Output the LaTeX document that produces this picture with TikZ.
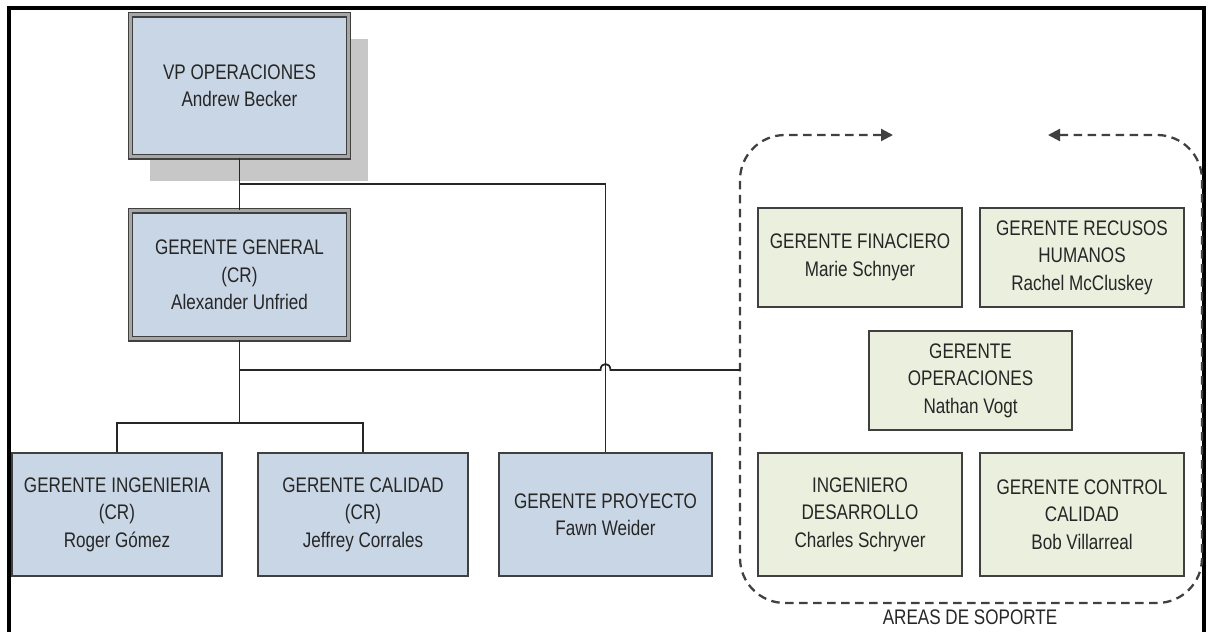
\documentclass[tikz,border=0pt]{standalone}
\usepackage{fontspec}
\newfontfamily\narrowfont[FakeStretch=0.81]{Liberation Sans}
\usetikzlibrary{arrows.meta,shadows}
\definecolor{boxblue}{RGB}{201,214,229}
\definecolor{boxgreen}{RGB}{235,239,222}
\definecolor{edgegray}{RGB}{64,64,64}

\begin{document}
\begin{tikzpicture}
[
  x=0.2mm,
  y=-0.2mm,
  txt/.style={font=\narrowfont\fontsize{12}{15.6}\selectfont,text=black!85,align=center},
  topbox/.style={txt,draw=black!75,line width=0.8pt,double=black!35,double distance=0.06cm,
    fill=boxblue,minimum width=4.36cm,inner sep=0pt},
  mgrbox/.style={txt,draw=edgegray,line width=0.9pt,fill=boxblue,
    minimum width=4.2cm,minimum height=2.46cm,inner sep=0pt},
  supbox/.style={txt,draw=edgegray,line width=0.9pt,fill=boxgreen,
    minimum width=4.08cm,minimum height=1.98cm,inner sep=0pt},
  link/.style={draw=black!85,line width=1pt},
  frame/.style={draw=black,line width=2pt}
]
\useasboundingbox (0,0) rectangle (1208,632);

% Frame
\draw[frame] (9,632) -- (9,8) -- (1204,8) -- (1204,632);

% Top boxes
\node[topbox,minimum height=2.84cm,
  drop shadow={shadow xshift=0.38cm,shadow yshift=-0.48cm,fill=black!22,opacity=1}]
  (vp) at (239.5,86) {VP OPERACIONES\\Andrew Becker};
\node[topbox,minimum height=2.56cm] (gg) at (239.5,275)
  {GERENTE GENERAL\\(CR)\\Alexander Unfried};

% Managers
\node[mgrbox] (ing) at (117,514.5) {GERENTE INGENIERIA\\(CR)\\Roger Gómez};
\node[mgrbox] (cal) at (363,514.5) {GERENTE CALIDAD\\(CR)\\Jeffrey Corrales};
\node[mgrbox,minimum width=4.26cm] (proy) at (605.5,514.5) {GERENTE PROYECTO\\Fawn Weider};

% Support areas
\node[supbox] (fin) at (860,257.5) {GERENTE FINACIERO\\Marie Schnyer};
\node[supbox] (rrhh) at (1082,257.5) {GERENTE RECUSOS\\HUMANOS\\Rachel McCluskey};
\node[supbox,minimum width=4.06cm] (oper) at (970.5,380.5) {GERENTE\\OPERACIONES\\Nathan Vogt};
\node[supbox,minimum height=2.46cm] (des) at (860,514.5) {INGENIERO\\DESARROLLO\\Charles Schryver};
\node[supbox,minimum height=2.46cm] (ctrl) at (1082,514.5) {GERENTE CONTROL\\CALIDAD\\Bob Villarreal};
\node[txt] (areas) at (970,617) {AREAS DE SOPORTE};

\draw[draw=edgegray,line width=1.3pt,dash pattern=on 0.17cm off 0.11cm,rounded corners=0.9cm,
  {Triangle[length=0.24cm,width=0.24cm]}-{Triangle[length=0.24cm,width=0.24cm]}]
  (893,135) -- (740,135) -- (740,603) -- (1202,603) -- (1202,135) -- (1048,135);

% Connectors
\coordinate (j1) at (239.5,184);
\coordinate (bus) at (239.5,423);
\coordinate (j3) at (239.5,370);
\coordinate (soporte) at (740,370);
\draw[link] (vp) -- (gg);
\draw[link] (j1) -| (proy.north);
\draw[link] (gg) -- (bus);
\draw[link] (ing.north) |- (bus) -| (cal.north);
\draw[link] (j3) -- (600.5,370) .. controls (600.5,362) and (610.5,362) .. (610.5,370) -- (soporte);

\end{tikzpicture}
\end{document}
